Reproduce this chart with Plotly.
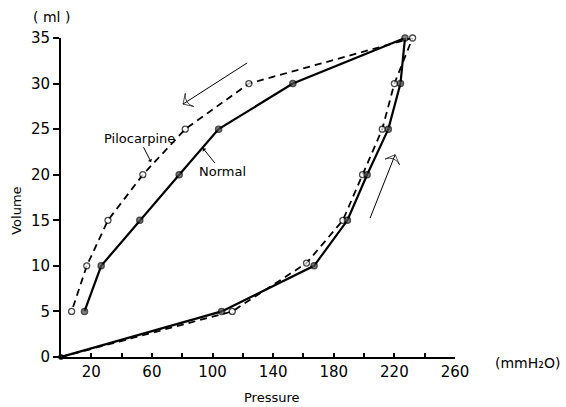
import plotly.graph_objects as go

# Data (Pressure in mmH2O, Volume in ml)
normal_pressure = [0, 106, 167, 189, 202, 216, 224, 227, 153, 104, 78, 52, 26.5, 15.5]
normal_volume = [0, 5, 10, 15, 20, 25, 30, 35, 30, 25, 20, 15, 10, 5]
pilo_pressure = [0, 113, 162, 186, 199, 212, 220, 232, 124, 82, 54, 31, 17, 7]
pilo_volume = [0, 5, 10.3, 15, 20, 25, 30, 35, 30, 25, 20, 15, 10, 5]

x_ticks = [20, 60, 100, 140, 180, 220, 260]
x_minor_ticks = [40, 80, 120, 160, 200, 240]
y_ticks = [0, 5, 10, 15, 20, 25, 30, 35]

FONT = "DejaVu Sans"
BLACK = "black"


def sizes(n, first=4, rest=6):
    return [first] + [rest] * (n - 1)


fig = go.Figure()
fig.add_trace(go.Scatter(
    x=pilo_pressure, y=pilo_volume, mode="lines+markers", name="Pilocarpine",
    line=dict(color=BLACK, width=1.8, dash="7px,5px"),
    marker=dict(symbol="circle", size=sizes(len(pilo_pressure)), color="white",
                line=dict(color=BLACK, width=1.3)),
    cliponaxis=False,
))
fig.add_trace(go.Scatter(
    x=normal_pressure, y=normal_volume, mode="lines+markers", name="Normal",
    line=dict(color=BLACK, width=2.2),
    marker=dict(symbol="circle", size=sizes(len(normal_pressure)), color="#555",
                line=dict(color=BLACK, width=1.5)),
    cliponaxis=False,
))

# direction arrows (tail -> head), drawn as small line traces with an arrow marker
direction_arrows = [((122.8, 32.26), (80.5, 27.75)), ((204, 15.25), (220.5, 22.2))]
for (tx, ty), (hx, hy) in direction_arrows:
    fig.add_trace(go.Scatter(
        x=[tx, hx], y=[ty, hy], mode="lines+markers", hoverinfo="skip",
        line=dict(color=BLACK, width=1),
        marker=dict(symbol=["circle", "arrow-wide-open"], size=[0, 11],
                    angleref="previous", color=BLACK,
                    line=dict(color=BLACK, width=1)),
    ))


def label(text, x, y, xref="paper", yref="paper", size=13, **kw):
    return dict(text=text, x=x, y=y, xref=xref, yref=yref, showarrow=False,
                xanchor="center", yanchor="middle",
                font=dict(size=size, color=BLACK, family=FONT), **kw)


def pointer(text, x, y, ax, ay, size=13):
    # text centred at (ax, ay), arrow pointing to (x, y)
    return dict(text=text, x=x, y=y, ax=ax, ay=ay, xref="x", yref="y",
                axref="x", ayref="y", showarrow=True, arrowhead=1,
                arrowsize=0.8, arrowwidth=1, arrowcolor=BLACK, standoff=0,
                font=dict(size=size, color=BLACK, family=FONT))


annotations = [
    label("( ml )", -0.023, 1.066, size=14),
    label("Volume", -0.112, 0.458, size=13, textangle=-90),
    label("Pressure", 0.5355, -0.1285, size=13),
    label("(mmH\u2082O)", 1.185, -0.019, size=14),
    pointer("Pilocarpine", 59.4, 21.4, 51.5, 24.0),
    pointer("Normal", 93.7, 22.9, 106.3, 20.3),
]

fig.update_layout(
    width=566, height=407,
    margin=dict(l=61, r=111, t=38, b=50),
    paper_bgcolor="white", plot_bgcolor="white",
    showlegend=False,
    font=dict(family=FONT, color=BLACK),
    annotations=annotations,
)
fig.update_xaxes(
    range=[0, 260], tickvals=x_ticks,
    showline=True, linecolor=BLACK, linewidth=2,
    ticks="inside", ticklen=4, tickwidth=1.5, tickcolor=BLACK,
    minor=dict(tickvals=x_minor_ticks, ticks="inside", ticklen=4, tickwidth=1.5,
               tickcolor=BLACK, showgrid=False),
    showgrid=False, zeroline=False, tickfont=dict(size=15, color=BLACK),
)
fig.update_yaxes(
    range=[0, 35], tickvals=y_ticks,
    showline=True, linecolor=BLACK, linewidth=2,
    ticks="outside", ticklen=6, tickwidth=1.5, tickcolor=BLACK,
    showgrid=False, zeroline=False, tickfont=dict(size=15, color=BLACK),
)

fig.write_html("out.html")
